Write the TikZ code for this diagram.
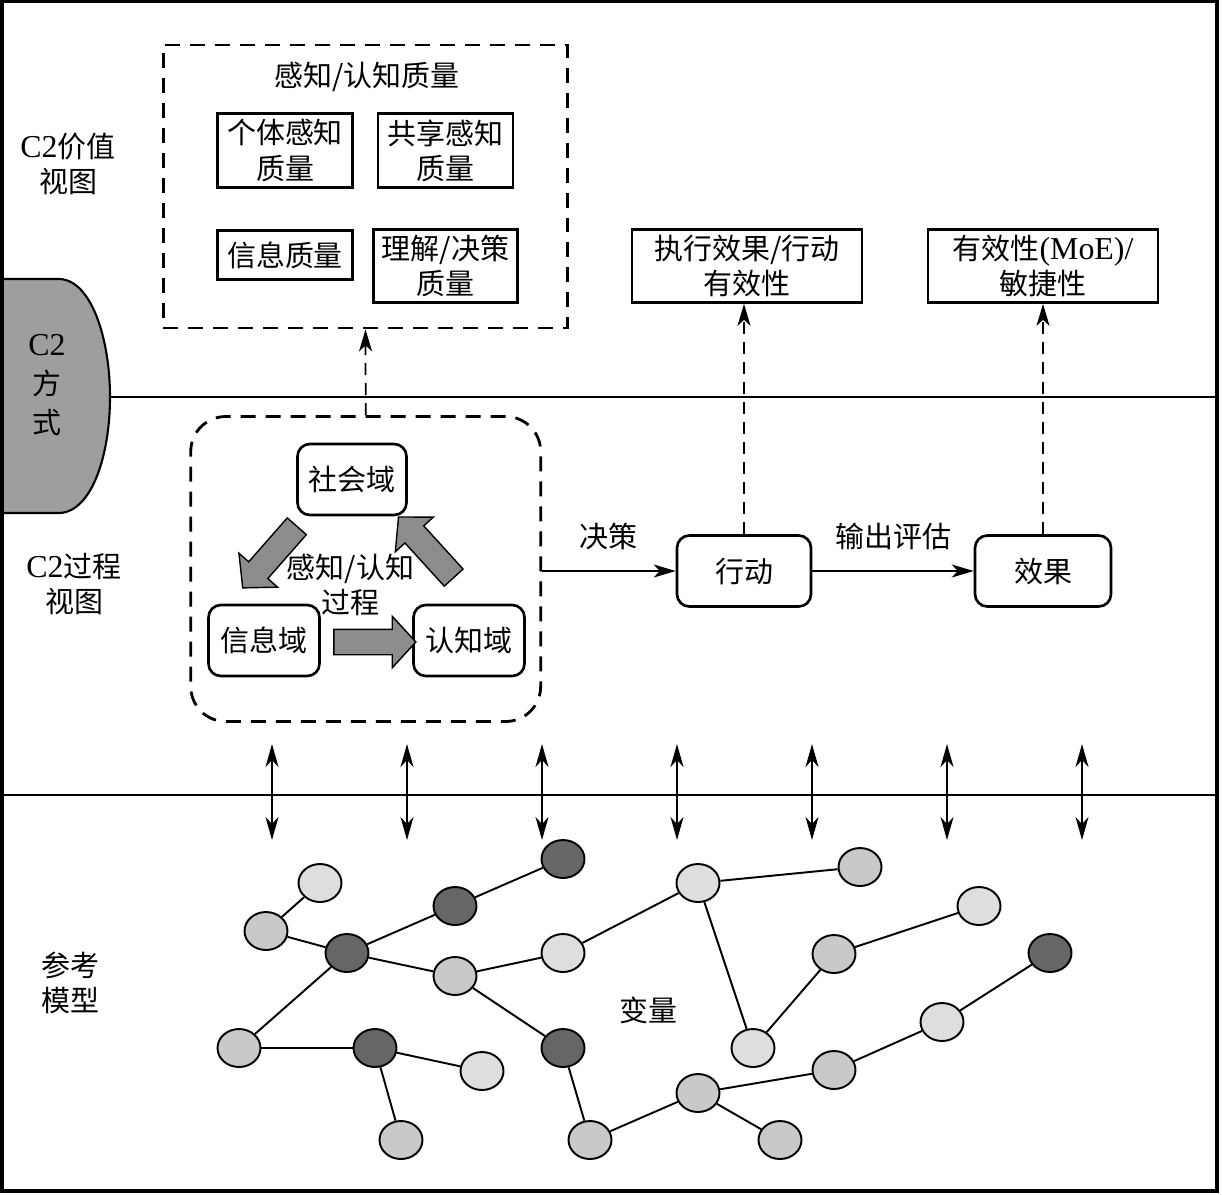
\documentclass[tikz,border=0pt]{standalone}
\usepackage{fontspec}
\setmainfont{Noto Sans CJK SC}
\newfontfamily\latinfont[Scale=1.1]{Liberation Serif}
\newcommand{\lat}[1]{{\latinfont #1}}
\usetikzlibrary{positioning,shapes.geometric,shapes.arrows,arrows.meta}

\definecolor{varlight}{gray}{0.87}
\definecolor{varmid}{gray}{0.79}
\definecolor{vardark}{gray}{0.40}
\definecolor{modefill}{gray}{0.62}
\definecolor{fatfill}{gray}{0.55}

\begin{document}
\begin{tikzpicture}[
    x=0.02cm, y=-0.02cm,
    font=\fontsize{16.5}{20}\selectfont,
    qbox/.style={draw, line width=1.5pt, align=center, inner sep=1pt},
    dombox/.style={draw, line width=1.5pt, rounded corners=7pt, align=center, minimum height=1.42cm},
    dashbox/.style={draw, line width=1.6pt, dash pattern=on 0.3cm off 0.2cm},
    fat/.style={single arrow, draw, line width=0.8pt, fill=fatfill, inner xsep=0pt, inner ysep=0.24cm,
      single arrow head extend=0.26cm, single arrow tip angle=95, minimum height=1.64cm},
    var/.style={ellipse, draw, line width=1.1pt, minimum width=0.86cm, minimum height=0.76cm, inner sep=0pt},
    vl/.style={var, fill=varlight},
    vm/.style={var, fill=varmid},
    vd/.style={var, fill=vardark},
    link/.style={line width=1.1pt},
    arrow/.style={-{Stealth[length=0.44cm, width=0.26cm, inset=0.12cm]}, line width=1pt},
    dasharrow/.style={arrow, dash pattern=on 0.24cm off 0.16cm},
    dbl/.style={{Stealth[length=0.46cm, width=0.26cm, inset=0.14cm]}-{Stealth[length=0.46cm, width=0.26cm, inset=0.14cm]}, line width=1pt}
  ]
    \useasboundingbox (0,0) rectangle (1222,1194);

    % C2 mode tab and layer lines
    \draw[line width=1.2pt, fill=modefill] (2,279) -- (60,279) .. controls (92,281) and (110,340) .. (110,397)
      .. controls (110,455) and (92,511) .. (60,513) -- (2,513);
    \draw[line width=1.2pt] (110,397) -- (1217,397);
    \draw[line width=1.2pt] (2,795) -- (1217,795);
    \draw[line width=1.8pt] (2,1) rectangle (1217,1191);

    \node[align=center] (valview) at (68,164) {\lat{C2}价值\\视图};
    \node[align=center] (mode) at (47,385) {\lat{C2}\\[2pt]方\\[2pt]式};
    \node[align=center] (procview) at (74,584) {\lat{C2}过程\\视图};
    \node[align=center] (refmodel) at (70,983) {参考\\模型};

    % value view
    \node[dashbox, minimum width=8.09cm, minimum height=5.66cm] (quality) at (365.5,186.5) {};
    \node (qtitle) at (367,77) {感知/认知质量};
    \node[qbox, minimum width=2.7cm, minimum height=1.47cm] (indiv) at (285,150.5) {个体感知\\质量};
    \node[qbox, minimum width=2.7cm, minimum height=1.47cm] (shared) at (445.5,150.5) {共享感知\\质量};
    \node[qbox, minimum width=2.7cm, minimum height=0.98cm] (infoq) at (285,255) {信息质量};
    \node[qbox, minimum width=2.88cm, minimum height=1.46cm] (decq) at (445.5,266) {理解/决策\\质量};
    \node[qbox, minimum width=4.6cm, minimum height=1.46cm] (exec) at (747,266) {执行效果/行动\\有效性};
    \node[qbox, minimum width=4.6cm, minimum height=1.46cm] (moe) at (1043,266) {有效性\lat{(MoE)/}\\敏捷性};

    % process view
    \node[dashbox, rounded corners=0.7cm, minimum width=7.0cm, minimum height=6.1cm] (proc) at (365.7,569) {};
    \node[dombox, minimum width=2.18cm] (social) at (352,479.5) {社会域};
    \node[dombox, minimum width=2.22cm] (infodom) at (264,640.5) {信息域};
    \node[dombox, minimum width=2.22cm] (cogdom) at (469,640.5) {认知域};
    \node[fat, rotate=228.7] (toinfo) at (273.6,552.7) {};
    \node[fat, rotate=132.3] (tosocial) at (430,551.6) {};
    \node[fat] (tocog) at (369,642) {};
    \node[align=center] (proclabel) at (350.5,585) {感知/认知\\过程};

    \node[dombox, minimum width=2.68cm] (act) at (744,571) {行动};
    \node[dombox, minimum width=2.72cm] (eff) at (1043,571) {效果};

    \draw[arrow] (proc.east |- act) -- node[above=8pt] (decide) {决策} (act);
    \draw[arrow] (act) -- node[above=8pt] (assess) {输出评估} (eff);

    \draw[dasharrow] (proc.north) -- (quality.south);
    \draw[dasharrow] (act.north) -- (act.north |- exec.south);
    \draw[dasharrow] (eff.north) -- (eff.north |- moe.south);

    % links between the layers
    \foreach \i in {0,...,6} {
      \coordinate (up\i) at (272+135*\i,744);
      \coordinate (dn\i) at (272+135*\i,840);
      \draw[dbl] (up\i) -- (dn\i);
    }

    % reference model
    \node[vl] (v1) at (320,883) {};
    \node[vm] (v2) at (266,931) {};
    \node[vd] (v3) at (347,953) {};
    \node[vd] (v4) at (455,906) {};
    \node[vd] (v5) at (563,859) {};
    \node[vm] (v6) at (455,976) {};
    \node[vl] (v7) at (563,953) {};
    \node[vl] (v8) at (698,883) {};
    \node[vm] (v9) at (860,867) {};
    \node[vl] (v10) at (979,906) {};
    \node[vm] (v11) at (834,954) {};
    \node[vd] (v12) at (1050,953) {};
    \node[vl] (v13) at (753,1048) {};
    \node[vl] (v14) at (942,1022) {};
    \node[vm] (v15) at (834,1070) {};
    \node[vm] (v16) at (698,1093) {};
    \node[vm] (v17) at (239,1048) {};
    \node[vd] (v18) at (375,1048) {};
    \node[vl] (v19) at (482,1071) {};
    \node[vm] (v20) at (401,1140) {};
    \node[vd] (v21) at (563,1048) {};
    \node[vm] (v22) at (590,1140) {};
    \node[vm] (v23) at (780,1140) {};
    \foreach \a/\b in {v1/v2, v2/v3, v3/v4, v4/v5, v3/v6, v3/v17, v6/v7, v7/v8, v6/v21,
      v17/v18, v18/v19, v18/v20, v21/v22, v22/v16, v8/v9, v8/v13, v13/v11, v11/v10,
      v16/v15, v15/v14, v14/v12, v16/v23}
      \draw[link] (\a) -- (\b);
    \node (varlabel) at (648,1010) {变量};
\end{tikzpicture}
\end{document}
